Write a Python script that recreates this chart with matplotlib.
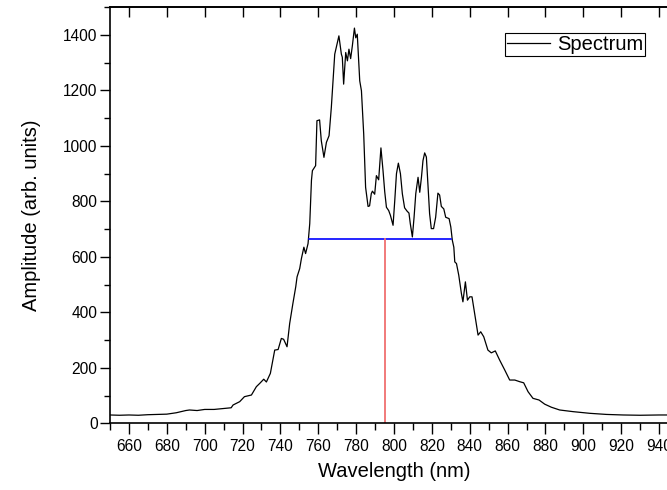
import matplotlib
matplotlib.use("Agg")
import matplotlib.pyplot as plt
from matplotlib.ticker import MultipleLocator

plt.rcParams['font.family'] = ['Liberation Sans', 'DejaVu Sans']

# ---- data ----
wavelength = [650, 655, 660, 665, 670, 676, 680, 685, 690, 692, 696, 700, 705, 711, 714,
              715, 718.5, 721, 724.7, 727.3, 729.1, 731.2, 732.6, 734.7, 737, 738.8, 740.5,
              741.7, 743.5, 744.9, 746.6, 748.1, 748.8, 750.2, 751.1, 752.4, 753.3, 754.6,
              755.5, 756.4, 756.9, 758.6, 759.3, 760.7, 761.6, 763.0, 764.3, 765.7, 766.9,
              767.8, 768.7, 770.9, 772.2, 772.7, 773.4, 774.5, 775.4, 776.2, 777.1, 778.0,
              779.1, 779.8, 780.6, 781.9, 782.8, 784.0, 785.0, 786.3, 787.1, 788.0, 788.6,
              789.8, 790.7, 791.9, 793.1, 794.2, 795.1, 796.0, 797.2, 798.1, 799.5, 800.4,
              801.3, 802.3, 803.4, 804.4, 805.6, 806.9, 807.9, 808.6, 809.7, 810.6, 811.5,
              812.7, 813.6, 814.5, 815.3, 816.2, 817.1, 818.0, 818.8, 819.7, 820.9, 822.0,
              823.2, 824.1, 825.0, 826.3, 827.3, 829.1, 830.0, 830.8, 831.6, 832.1, 833,
              834.2, 835.6, 836.4, 837.7, 838.8, 840.0, 841.2, 842.6, 844.4, 845.8, 847.4,
              849.6, 851.4, 853.5, 855.8, 858.5, 861.1, 863.8, 866.4, 868.5, 870.8, 873.4,
              876.6, 879.6, 883.1, 887.5, 894.6, 903.4, 912.2, 921, 930, 940, 950]
amplitude = [30, 29, 30, 29, 31, 32, 33, 38, 46, 48, 46, 50, 50, 54, 56,
             66, 78, 96, 102, 132, 144, 159, 149, 180, 264, 266, 306,
             303, 276, 360, 432, 492, 528, 558, 594, 635, 612, 648,
             720, 876, 911, 929, 1091, 1094, 1019, 959, 1013, 1037, 1139,
             1235, 1331, 1397, 1331, 1320, 1223, 1337, 1307, 1349, 1315, 1361,
             1425, 1390, 1403, 1235, 1199, 1043, 851, 782, 784, 828, 837,
             826, 893, 878, 993, 911, 835, 779, 767, 750, 714, 803,
             900, 938, 900, 828, 777, 765, 758, 720, 672, 743, 828,
             887, 833, 887, 947, 975, 960, 851, 756, 702, 702, 743,
             830, 823, 782, 773, 743, 738, 708, 660, 635, 582, 576,
             534, 468, 438, 510, 444, 456, 456, 396, 318, 330, 312,
             264, 254, 261, 228, 192, 156, 156, 150, 146, 114, 90,
             84, 69, 58, 48, 42, 36, 32, 30, 29, 30, 30]

half_max = 665
fwhm_left = 754.9
fwhm_right = 830.3
center_wl = 795.1

xticks = list(range(660, 941, 20))
yticks = list(range(0, 1401, 200))

# ---- figure ----
fig = plt.figure(figsize=(6.67, 4.90), dpi=100)
ax = fig.add_axes([110/667, 1 - 423.3/490, (678 - 110)/667, (423.3 - 7.3)/490])

ax.plot(wavelength, amplitude, color='black', lw=0.9, label='Spectrum')
ax.plot([fwhm_left, fwhm_right], [half_max, half_max], color='#0000ff', lw=1.2)
ax.plot([center_wl, center_wl], [0, half_max], color='#f07070', lw=1.3)

ax.set_xlim(650, 950)
ax.set_ylim(0, 1500)
ax.set_xticks(xticks)
ax.set_yticks(yticks)
ax.xaxis.set_minor_locator(MultipleLocator(10))
ax.yaxis.set_minor_locator(MultipleLocator(100))

ax.tick_params(axis='x', which='major', direction='out', length=8, width=1,
               labelsize=11.2, top=False, pad=3)
ax.tick_params(axis='x', which='minor', direction='out', length=5, width=1, top=False)
ax.tick_params(axis='y', which='major', direction='out', length=7, width=1,
               labelsize=11.2, pad=2, right=False)
ax.tick_params(axis='y', which='minor', direction='out', length=4, width=1, right=False)

# top axis ticks pointing inward
sec = ax.secondary_xaxis('top')
sec.set_xticks(xticks)
sec.tick_params(direction='in', length=7, width=1, labeltop=False)
sec.set_xticklabels([])
sec.spines['top'].set_linewidth(1.2)

for s in ax.spines.values():
    s.set_linewidth(1.2)

ax.set_xlabel('Wavelength (nm)', fontsize=14.5, labelpad=6)
ax.set_ylabel('Amplitude (arb. units)', fontsize=14.5, labelpad=16)

leg = ax.legend(loc='upper right', bbox_to_anchor=(645/667, 1 - 33/490),
                bbox_transform=fig.transFigure, fontsize=14.5, frameon=True,
                fancybox=False, edgecolor='black', framealpha=1,
                handlelength=2.1, handletextpad=0.35, borderpad=0.1,
                borderaxespad=0)
leg.get_frame().set_linewidth(0.8)

fig.savefig('out.png', dpi=100)
